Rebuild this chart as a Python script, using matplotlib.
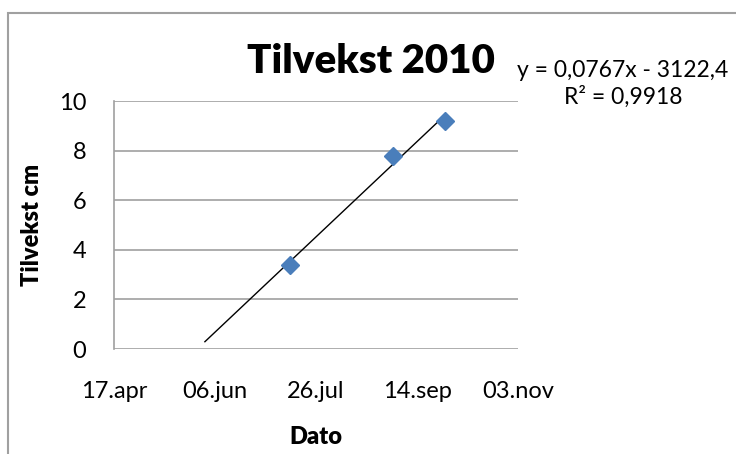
import numpy as np
import matplotlib
matplotlib.use("Agg")
import matplotlib.pyplot as plt
import matplotlib.dates as mdates
from matplotlib.patches import Rectangle

plt.rcParams['font.family'] = ['Lato', 'DejaVu Sans']

# data
dates = np.array(['2010-07-13', '2010-09-02', '2010-09-28'], dtype='datetime64[D]')
growth = [3.4, 7.8, 9.2]
trend_start = np.datetime64('2010-06-01')

tick_dates = np.array(['2010-04-17', '2010-06-06', '2010-07-26', '2010-09-14', '2010-11-03'],
                      dtype='datetime64[D]')
tick_labels = ['17.apr', '06.jun', '26.jul', '14.sep', '03.nov']
y_ticks = [0, 2, 4, 6, 8, 10]

title = 'Tilvekst 2010'
equation = 'y = 0,0767x - 3122,4'
r_squared = 'R² = 0,9918'

W, H = 736, 454
fig = plt.figure(figsize=(W / 100, H / 100), dpi=100)
ax = fig.add_axes([114 / W, 1 - 349 / H, (518 - 114) / W, (349 - 101) / H])

x_num = mdates.date2num(dates)
ticks_num = mdates.date2num(tick_dates)

# linear trendline (with backward forecast like Excel)
k, m = np.polyfit(x_num, growth, 1)
tx = np.array([mdates.date2num(trend_start), x_num[-1]])
ax.plot(tx, k * tx + m, color='black', lw=1.0, zorder=3)

ax.plot(x_num, growth, linestyle='none', marker='D', ms=9.5,
        color='#4A7EBB', zorder=4)

ax.set_xlim(ticks_num[0], ticks_num[-1])
ax.set_ylim(0, 10)
ax.set_xticks(ticks_num)
ax.set_xticklabels(tick_labels)
ax.set_yticks(y_ticks)
ax.tick_params(axis='both', length=0, labelsize=17, colors='black')
ax.tick_params(axis='x', pad=23)
ax.tick_params(axis='y', pad=20)
ax.grid(axis='y', color='#A0A0A0', lw=1.2)
ax.set_axisbelow(True)
for s in ['top', 'right', 'bottom']:
    ax.spines[s].set_visible(False)
ax.spines['left'].set_color('#A0A0A0')
ax.spines['left'].set_linewidth(1.2)

ax.set_ylabel('Tilvekst cm', fontsize=17, fontweight='heavy', labelpad=11)
ax.set_xlabel('Dato', fontsize=17, fontweight='heavy', labelpad=17)

fig.text(247 / W, 1 - 73 / H, title, fontsize=29, fontweight='heavy',
         ha='left', va='baseline')
fig.text(728 / W, 1 - 77 / H, equation, fontsize=16.5, ha='right', va='baseline')
fig.text(682 / W, 1 - 104 / H, r_squared, fontsize=16.5, ha='right', va='baseline')

# chart frame
fig.patches.append(Rectangle((8 / W, -0.1), 1.2, 1 - 13 / H + 0.1,
                             transform=fig.transFigure, fill=False,
                             edgecolor='#A0A0A0', lw=1.5))

fig.savefig('out.png', dpi=100)
